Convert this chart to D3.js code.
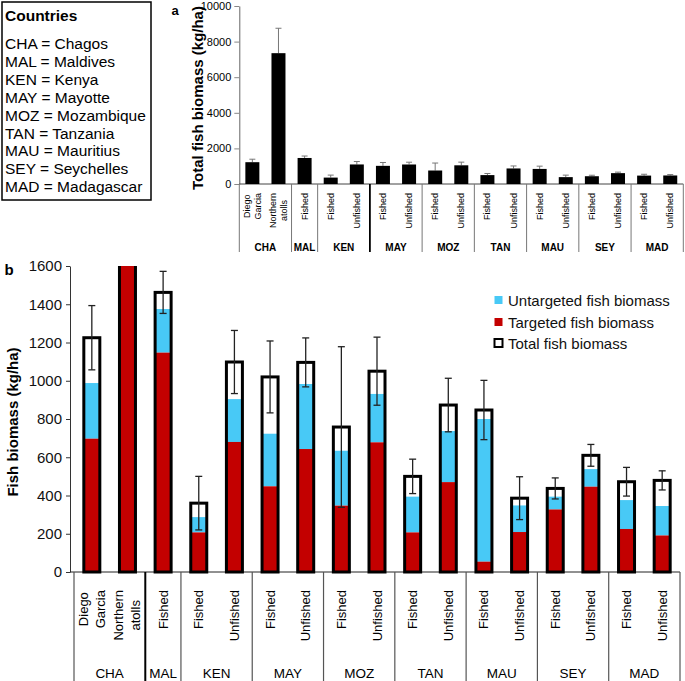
<!DOCTYPE html>
<html><head><meta charset="utf-8">
<script src="https://cdn.jsdelivr.net/npm/d3@7"></script>
<style>
html,body{margin:0;padding:0;background:#fff;}
svg{display:block;font-family:"Liberation Sans",Arial,sans-serif;}
</style></head>
<body>
<svg id="chart" width="685" height="681"></svg>
<script>
// ---------- DATA ----------
const siteLabels = ["Diego\nGarcia","Northern\natolls","Fished","Fished","Unfished","Fished","Unfished","Fished","Unfished","Fished","Unfished","Fished","Unfished","Fished","Unfished","Fished","Unfished"];
const siteLabelsA = ["Diego\nGarcia","Northern\natolls","Fished","Fished","Unfished","Fished","Unfished","Fished","Unfished","Fished","Unfished","Fished","Unfished","Fished","Unfished","Fished","Unfished"];
const countries = ["CHA","CHA","MAL","KEN","KEN","MAY","MAY","MOZ","MOZ","TAN","TAN","MAU","MAU","SEY","SEY","MAD","MAD"];
const totalBiomass = [1225, 7350, 1462, 360, 1098, 1020, 1096, 758, 1050, 500, 873, 847, 386, 437, 610, 472, 479];
const targetedBiomass = [697, 7350, 1147, 207, 680, 448, 643, 347, 678, 207, 470, 54, 209, 327, 446, 225, 191];
const untargetedBiomass = [291, 0, 228, 80, 224, 275, 340, 287, 253, 187, 267, 746, 139, 67, 92, 151, 154];
const seBiomass = [168, 1400, 110, 140, 165, 188, 128, 420, 178, 90, 140, 155, 112, 55, 57, 75, 50];
const yTicksA = [0, 2000, 4000, 6000, 8000, 10000];
const yTicksB = [0, 200, 400, 600, 800, 1000, 1200, 1400, 1600];
const legendCodes = ["CHA","MAL","KEN","MAY","MOZ","TAN","MAU","SEY","MAD"];
const legendNames = ["Chagos","Maldives","Kenya","Mayotte","Mozambique","Tanzania","Mauritius","Seychelles","Madagascar"];
const seriesNames = ["Untargeted fish biomass","Targeted fish biomass","Total fish biomass"];

const RED = "#c30000", BLUE = "#48c9f6";
const svg = d3.select("#chart");
const idx = d3.range(totalBiomass.length);
const fmt = d3.format("d");

// country groups
const groups = [];
countries.forEach((c,i)=>{
  if(!groups.length || groups[groups.length-1].name!==c) groups.push({name:c,start:i,end:i});
  else groups[groups.length-1].end=i;
});

// ---------- Countries box ----------
const box = svg.append("g");
box.append("rect").attr("x",2).attr("y",2).attr("width",149).attr("height",198)
  .attr("fill","#fff").attr("stroke","#000").attr("stroke-width",1.5);
box.append("text").attr("x",5).attr("y",21).attr("font-size",15.5).attr("font-weight","bold").text("Countries");
legendCodes.forEach((c,i)=>{
  box.append("text").attr("x",5).attr("y",49+i*17.9).attr("font-size",15.5).text(c+" = "+legendNames[i]);
});

// ---------- helper for rotated multi-line labels ----------
function rotLabels(g, labels, xc, top, fs, lineGap){
  labels.forEach((lab,i)=>{
    const lines = lab.split("\n");
    const t = g.append("g").attr("transform",`translate(${xc(i)},${top}) rotate(-90)`);
    if(lines.length===1){
      t.append("text").attr("x",0).attr("y",0).attr("text-anchor","end")
        .attr("dominant-baseline","central").attr("font-size",fs).text(lines[0]);
    } else {
      const texts = lines.map((ln,k)=> t.append("text").attr("y",(k-(lines.length-1)/2)*lineGap)
        .attr("text-anchor","middle").attr("dominant-baseline","central").attr("font-size",fs).text(ln));
      const maxL = d3.max(texts, tx=>tx.node().getComputedTextLength());
      texts.forEach(tx=>tx.attr("x",-maxL/2));
    }
  });
}

// ---------- PANEL A ----------
const A = {left:239.3, right:683.3, top:6, bottom:184, labTop:193, sepBottom:252, groupY:247};
const xA = d3.scaleBand().domain(idx).range([A.left, A.right]);
const yA = d3.scaleLinear().domain([0,10000]).range([A.bottom, A.top]);
const ga = svg.append("g");
const axA = ga.append("g").attr("transform",`translate(${A.left},0)`)
  .call(d3.axisLeft(yA).tickValues(yTicksA).tickFormat(fmt).tickSize(5).tickSizeOuter(0).tickPadding(3));
axA.selectAll("text").attr("font-size",11).attr("font-family","Liberation Sans, Arial, sans-serif").attr("fill","#000");
axA.selectAll("line").attr("stroke","#888");
axA.select(".domain").attr("stroke","#666");
ga.append("line").attr("x1",A.left).attr("x2",A.right).attr("y1",A.bottom).attr("y2",A.bottom).attr("stroke","#444");
const bwA = 14;
// error bars (upper only)
idx.forEach(i=>{
  const cx = xA(i)+xA.bandwidth()/2;
  ga.append("line").attr("x1",cx).attr("x2",cx).attr("y1",yA(totalBiomass[i])).attr("y2",yA(totalBiomass[i]+seBiomass[i]))
    .attr("stroke","#777").attr("stroke-width",1);
  ga.append("line").attr("x1",cx-3).attr("x2",cx+3).attr("y1",yA(totalBiomass[i]+seBiomass[i])).attr("y2",yA(totalBiomass[i]+seBiomass[i]))
    .attr("stroke","#777").attr("stroke-width",1);
});
ga.selectAll("rect.barA").data(idx).join("rect").attr("class","barA")
  .attr("x",i=>xA(i)+(xA.bandwidth()-bwA)/2).attr("width",bwA)
  .attr("y",i=>yA(totalBiomass[i])).attr("height",i=>yA(0)-yA(totalBiomass[i])).attr("fill","#000");
// separators
const sepsA = [A.left].concat(groups.map(g=>xA(g.end)+xA.bandwidth()));
sepsA.forEach((x,k)=>{
  const strong = groups[k-1] && groups[k-1].name==="KEN";
  ga.append("line").attr("x1",x).attr("x2",x).attr("y1",A.bottom).attr("y2",A.sepBottom)
    .attr("stroke",strong?"#000":"#777").attr("stroke-width",strong?1.8:1);
});
rotLabels(ga, siteLabelsA, i=>xA(i)+xA.bandwidth()/2, A.labTop, 9, 11);
groups.forEach(g=>{
  ga.append("text").attr("x",(xA(g.start)+xA(g.end)+xA.bandwidth())/2).attr("y",A.groupY)
    .attr("text-anchor","middle").attr("dominant-baseline","central").attr("font-size",10).attr("font-weight","bold").text(g.name);
});
ga.append("text").attr("transform",`translate(197,${(A.top+A.bottom)/2+3}) rotate(-90)`)
  .attr("text-anchor","middle").attr("dominant-baseline","central").attr("font-size",15).attr("font-weight","bold")
  .text("Total fish biomass (kg/ha)");
ga.append("text").attr("x",175).attr("y",10).attr("text-anchor","middle").attr("dominant-baseline","central")
  .attr("font-size",13).attr("font-weight","bold").text("a");

// ---------- PANEL B ----------
const B = {axisX:70, left:74, right:680, top:266, bottom:572, labTop:590, groupY:673};
const xB = d3.scaleBand().domain(idx).range([B.left, B.right]);
const yB = d3.scaleLinear().domain([0,1600]).range([B.bottom, B.top]);
const gb = svg.append("g");
svg.append("defs").append("clipPath").attr("id","clipB").append("rect")
  .attr("x",B.axisX).attr("y",B.top).attr("width",B.right-B.axisX+5).attr("height",B.bottom-B.top+3);
const axB = gb.append("g").attr("transform",`translate(${B.axisX},0)`)
  .call(d3.axisLeft(yB).tickValues(yTicksB).tickFormat(fmt).tickSize(4).tickSizeOuter(0).tickPadding(4));
axB.selectAll("text").attr("font-size",15).attr("font-family","Liberation Sans, Arial, sans-serif").attr("fill","#111");
axB.selectAll("line").attr("stroke","#333");
axB.select(".domain").attr("stroke","#333");
gb.append("line").attr("x1",B.axisX).attr("x2",B.right).attr("y1",B.bottom).attr("y2",B.bottom).attr("stroke","#222");

const bwB = 16;
const bars = gb.append("g").attr("clip-path","url(#clipB)");
const bx = i=>xB(i)+(xB.bandwidth()-bwB)/2;
bars.selectAll("rect.tot").data(idx).join("rect").attr("class","tot")
  .attr("x",bx).attr("width",bwB).attr("y",i=>yB(totalBiomass[i])).attr("height",i=>yB(0)-yB(totalBiomass[i])).attr("fill","#fff");
bars.selectAll("rect.unt").data(idx).join("rect").attr("class","unt")
  .attr("x",bx).attr("width",bwB)
  .attr("y",i=>yB(targetedBiomass[i]+untargetedBiomass[i])).attr("height",i=>yB(targetedBiomass[i])-yB(targetedBiomass[i]+untargetedBiomass[i]))
  .attr("fill",BLUE);
bars.selectAll("rect.tar").data(idx).join("rect").attr("class","tar")
  .attr("x",bx).attr("width",bwB).attr("y",i=>yB(targetedBiomass[i])).attr("height",i=>yB(0)-yB(targetedBiomass[i])).attr("fill",RED);
bars.selectAll("rect.out").data(idx).join("rect").attr("class","out")
  .attr("x",bx).attr("width",bwB).attr("y",i=>yB(totalBiomass[i])).attr("height",i=>yB(0)-yB(totalBiomass[i]))
  .attr("fill","none").attr("stroke","#000").attr("stroke-width",3);
// error bars
idx.forEach(i=>{
  const cx = xB(i)+xB.bandwidth()/2, lo=yB(totalBiomass[i]-seBiomass[i]), hi=yB(totalBiomass[i]+seBiomass[i]);
  const eg = bars.append("g").attr("stroke","#222").attr("stroke-width",1.3);
  eg.append("line").attr("x1",cx).attr("x2",cx).attr("y1",lo).attr("y2",hi);
  eg.append("line").attr("x1",cx-3.5).attr("x2",cx+3.5).attr("y1",lo).attr("y2",lo);
  eg.append("line").attr("x1",cx-3.5).attr("x2",cx+3.5).attr("y1",hi).attr("y2",hi);
});
// separators
const sepsB = [B.left].concat(groups.map(g=>xB(g.end)+xB.bandwidth()));
sepsB.forEach((x,k)=>{
  const strong = groups[k-1] && groups[k-1].name==="CHA";
  gb.append("line").attr("x1",x).attr("x2",x).attr("y1",B.bottom).attr("y2",681)
    .attr("stroke",strong?"#000":"#555").attr("stroke-width",strong?2:1.2);
});
rotLabels(gb, siteLabels, i=>xB(i)+xB.bandwidth()/2, B.labTop, 13, 17);
groups.forEach(g=>{
  gb.append("text").attr("x",(xB(g.start)+xB(g.end)+xB.bandwidth())/2).attr("y",B.groupY)
    .attr("text-anchor","middle").attr("dominant-baseline","central").attr("font-size",13.5).text(g.name);
});
gb.append("text").attr("transform",`translate(12,422) rotate(-90)`)
  .attr("text-anchor","middle").attr("dominant-baseline","central").attr("font-size",15).attr("font-weight","bold")
  .text("Fish biomass (kg/ha)");
gb.append("text").attr("x",9).attr("y",269).attr("text-anchor","middle").attr("dominant-baseline","central")
  .attr("font-size",15).attr("font-weight","bold").text("b");

// legend
const lg = gb.append("g");
const legY = [300, 322, 343];
lg.append("rect").attr("x",494.5).attr("y",legY[0]-4).attr("width",8).attr("height",8).attr("fill",BLUE);
lg.append("rect").attr("x",494.5).attr("y",legY[1]-4).attr("width",8).attr("height",8).attr("fill",RED);
lg.append("rect").attr("x",494.5).attr("y",legY[2]-4).attr("width",8).attr("height",8).attr("fill","#fff").attr("stroke","#000").attr("stroke-width",2);
seriesNames.forEach((s,i)=>{
  lg.append("text").attr("x",508).attr("y",legY[i]).attr("dominant-baseline","central").attr("font-size",15).attr("fill","#111").text(s);
});
</script>
</body></html>
